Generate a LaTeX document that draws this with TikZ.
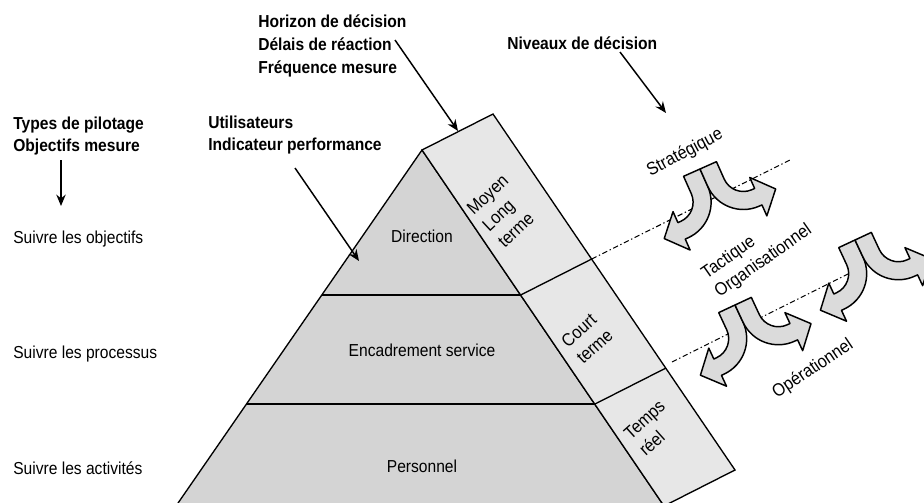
\documentclass[tikz,border=0pt]{standalone}
\usepackage{fontspec}
\setmainfont{Liberation Sans}
\newfontfamily\narrowsf[FakeStretch=0.9]{Liberation Sans}
\usepackage{tikz}
\usetikzlibrary{arrows.meta}
\definecolor{pyrgray}{RGB}{212,212,212}
\definecolor{bandgray}{RGB}{231,231,231}
\definecolor{arrgray}{RGB}{219,219,219}
\tikzset{txt/.style={inner sep=0pt,font=\narrowsf\fontsize{13}{16.5}\selectfont},
    hdr/.style={txt,align=left,font=\narrowsf\bfseries\fontsize{13}{16.5}\selectfont},
    slant/.style={txt,align=left,font=\narrowsf\fontsize{13.5}{17}\selectfont},
    conn/.style={-{Stealth[length=8.5pt,width=7pt]},line width=1.1pt},
    level/.style={fill=pyrgray,draw=black,line width=1pt},
    band/.style={fill=bandgray,draw=black,line width=1pt},
    split/.style={fill=arrgray,draw=black,line width=1.1pt,line join=round},
    dashdot/.style={line width=0.8pt,dash pattern=on 4pt off 2pt on 1pt off 2pt}}
% split arrow: #1 top centre of the two stems, #2 tilt
\newcommand{\splitarrow}[2]{%
  \begin{scope}[shift={#1},rotate=-#2]
    \foreach \s in {1,-1}{
      \draw[split,xscale=\s] (-18,0) -- (0,0) -- (0,19) arc[start angle=0,end angle=90,radius=39]
        -- ++(-3,0) -- ++(0,12) -- ++(-19,-21) -- ++(19,-21) -- ++(0,12) -- ++(3,0)
        arc[start angle=90,end angle=0,radius=21] -- cycle;
    }
  \end{scope}}

\begin{document}
\begin{tikzpicture}[x=0.75pt,y=0.75pt,yscale=-1,xscale=1]
\useasboundingbox (0,0) rectangle (924,503);
\clip (0,0) rectangle (924,503);

%Shape: pyramid
\coordinate (apex) at (422,150);
\coordinate (bl) at (176,506);
\coordinate (br) at (664,506);
\coordinate (d1l) at (321.5,295);
\coordinate (d1r) at (520.7,295);
\coordinate (d2l) at (246,404);
\coordinate (d2r) at (595,404);
\draw[level] (apex) -- (br) -- (bl) -- cycle;
\draw[line width=1.6pt] (d1l) -- (d1r);
\draw[line width=1.6pt] (d2l) -- (d2r);

%Shape: slanted band
\coordinate (bt) at (493,114);
\coordinate (bb) at (735,470);
\coordinate (c1) at (591.7,259);
\coordinate (c2) at (666,368);
\draw[band] (apex) -- (bt) -- (bb) -- (br) -- cycle;
\draw[line width=1pt] (d1r) -- (c1);
\draw[line width=1pt] (d2r) -- (c2);

%Dash dot lines
\coordinate (l1) at (790,160);
\coordinate (l2a) at (672,362);
\coordinate (l2b) at (850,273);
\draw[dashdot] (c1) -- (l1);
\draw[dashdot] (l2a) -- (l2b);

%Split arrows
\splitarrow{(700,169)}{24}
\splitarrow{(735,305)}{25}
\splitarrow{(855,240)}{25}

% Text Node
\node[hdr,anchor=west] (pilot) at (13,136) {Types de pilotage\\Objectifs mesure};
\node[hdr,anchor=west] (users) at (208,135) {Utilisateurs\\Indicateur performance};
\node[hdr,anchor=west,font=\narrowsf\bfseries\fontsize{13}{17.5}\selectfont] (horizon) at (258,46) {Horizon de décision\\Délais de réaction\\Fréquence mesure};
\node[hdr,anchor=west] (niveaux) at (507,43) {Niveaux de décision};
% Text Node
\node[txt,anchor=west] (obj) at (13,239) {Suivre les objectifs};
\node[txt,anchor=west] (proc) at (13,354) {Suivre les processus};
\node[txt,anchor=west] (act) at (13,468) {Suivre les activités};
% Text Node
\node[txt] (direction) at (422,236) {Direction};
\node[txt] (encadrement) at (422,350) {Encadrement service};
\node[txt] (personnel) at (422,466) {Personnel};
% Text Node
\node[slant,rotate=43] (moyen) at (503,211) {Moyen\\Long\\terme};
\node[slant,rotate=42] (court) at (587,338) {Court\\terme};
\node[slant,rotate=42] (temps) at (652,428) {Temps\\réel};
% Text Node
\node[slant,rotate=28] (strat) at (685,153) {Stratégique};
\node[slant,rotate=35] (tactique) at (757,252) {Tactique\\Organisationnel};
\node[slant,rotate=34] (opera) at (813,369) {Opérationnel};

%Arrows
\coordinate (pa) at (61,160);
\coordinate (pb) at (61,206);
\coordinate (ua) at (295,168);
\coordinate (ub) at (359,261);
\coordinate (ha) at (395,40);
\coordinate (hb) at (458,131);
\coordinate (na) at (620,52);
\coordinate (nb) at (666,113);
\draw[conn] (pa) -- (pb);
\draw[conn] (ua) -- (ub);
\draw[conn] (ha) -- (hb);
\draw[conn] (na) -- (nb);

\end{tikzpicture}
\end{document}
